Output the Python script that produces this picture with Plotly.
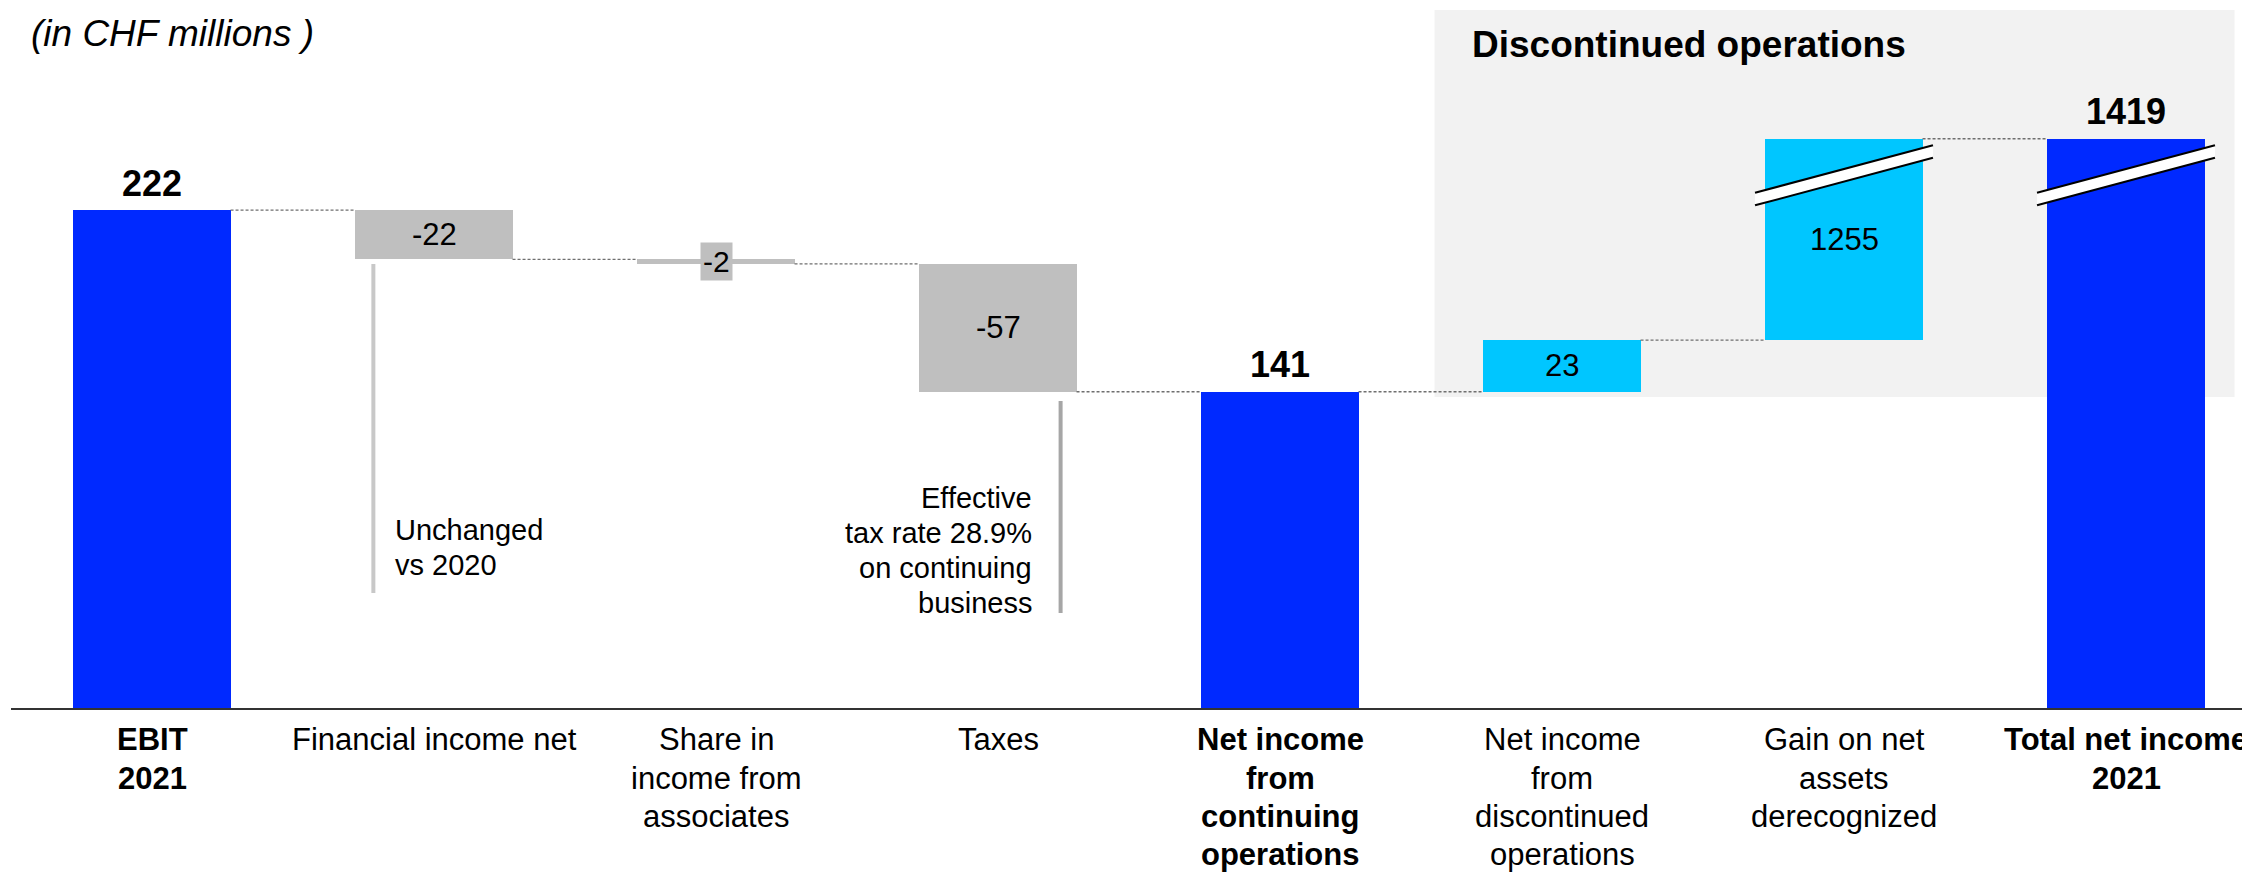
import plotly.graph_objects as go

# ---- data -------------------------------------------------------------
categories = [
    "EBIT|2021",
    "Financial income net",
    "Share in|income from|associates",
    "Taxes",
    "Net income|from|continuing|operations",
    "Net income|from|discontinued|operations",
    "Gain on net|assets|derecognized",
    "Total net income|2021",
]
values = [222, -22, -2, -57, 141, 23, 1255, 1419]
measures = ["total", "relative", "relative", "relative", "total", "relative", "relative", "total"]
bold_labels = [True, False, False, False, True, False, False, True]

unit_note = "(in CHF millions )"
section_title = "Discontinued operations"
fin_note = ["Unchanged", "vs 2020"]
tax_note = ["Effective", "tax rate 28.9%", "on continuing", "business"]

# ---- style ------------------------------------------------------------
BLUE = "#0029FF"
CYAN = "#00C6FF"
GREY = "#BFBFBF"
SHADE = "#F2F2F2"
FONT = "Liberation Sans, Arial, sans-serif"

W, H = 2242, 872
M_L, M_B = 11, 164
PX_PER_UNIT = 2.243             # vertical pixels per CHF million below the break
PLOT_H = H - M_B
BAR_W = 0.557

# broken value axis: values above BREAK_START are squeezed
BREAK_START = 230
SQUEEZE = 0.02


def to_axis(v):
    return v if v <= BREAK_START else BREAK_START + (v - BREAK_START) * SQUEEZE


# ---- waterfall geometry ---------------------------------------------------
starts, ends = [], []
running = 0
for v, m in zip(values, measures):
    if m == "total":
        s, e = 0, v
    else:
        s, e = running, running + v
    running = e
    starts.append(s)
    ends.append(e)

colors = []
for v, m in zip(values, measures):
    if m == "total":
        colors.append(BLUE)
    elif v < 0:
        colors.append(GREY)
    else:
        colors.append(CYAN)

xs = list(range(len(values)))
bases = [to_axis(s) for s in starts]
heights = [to_axis(e) - to_axis(s) for s, e in zip(starts, ends)]

fig = go.Figure()

fig.add_trace(go.Bar(
    x=xs, y=heights, base=bases, width=BAR_W,
    marker=dict(color=colors, line=dict(width=0)),
    hoverinfo="skip", showlegend=False,
))

shapes = []
annotations = []

# shaded panel behind the discontinued operations
shapes.append(dict(type="rect", xref="x", yref="y", x0=4.548, x1=7.385,
                   y0=138.7, y1=311.2, fillcolor=SHADE, line=dict(width=0),
                   layer="below"))

# dashed connectors between consecutive bars
for i in range(len(values) - 1):
    lvl = to_axis(ends[i])
    shapes.append(dict(type="line", xref="x", yref="y",
                       x0=i + BAR_W / 2, x1=i + 1 - BAR_W / 2, y0=lvl, y1=lvl,
                       line=dict(color="#6F6F6F", width=1.3, dash="3px,2px"),
                       layer="above"))

# break marks on bars that run past the squeezed part of the axis
over = 0.037
yl, yr, half = 226.9, 248.1, 2.8
for i, e in enumerate(ends):
    if max(e, starts[i]) > BREAK_START:
        xl = i - BAR_W / 2 - over
        xr = i + BAR_W / 2 + over
        shapes.append(dict(
            type="path", xref="x", yref="y",
            path=f"M {xl},{yl - half} L {xr},{yr - half} L {xr},{yr + half} L {xl},{yl + half} Z",
            fillcolor="white", line=dict(width=0), layer="above"))
        for d in (-half, half):
            shapes.append(dict(type="line", xref="x", yref="y",
                               x0=xl, y0=yl + d, x1=xr, y1=yr + d,
                               line=dict(color="black", width=2), layer="above"))

# callout rules
shapes.append(dict(type="line", xref="x", yref="y", x0=0.785, x1=0.785,
                   y0=51.3, y1=197.9, line=dict(color="#C8C8C8", width=4)))
shapes.append(dict(type="line", xref="x", yref="y", x0=3.222, x1=3.222,
                   y0=42.4, y1=136.9, line=dict(color="#A6A6A6", width=4)))


def text(x, y, t, size, xanchor="center", yshift=0, xref="x", **kw):
    annotations.append(dict(x=x, y=y, xref=xref, yref="y", text=t,
                            showarrow=False, xanchor=xanchor, yanchor="middle",
                            yshift=yshift, font=dict(family=FONT, size=size, color="black"),
                            **kw))


# value labels
for i, (v, m) in enumerate(zip(values, measures)):
    top = to_axis(ends[i])
    if m == "total":
        text(i, top, f"<b>{v}</b>", 36, yshift=27)
    elif abs(heights[i]) < 10:
        mid = bases[i] + heights[i] / 2
        text(i, mid, f"{v}", 30, bgcolor=GREY, borderpad=2)
    else:
        mid = bases[i] + heights[i] / 2
        text(i, mid, f"{v}", 31)

# category labels under the axis
LINE_GAP = 38.3
for i, (cat, b) in enumerate(zip(categories, bold_labels)):
    for j, line in enumerate(cat.split("|")):
        t = f"<b>{line}</b>" if b else line
        text(i, 0, t, 31, yshift=-(31.9 + j * LINE_GAP))

# notes
for j, line in enumerate(fin_note):
    text(0.856, 79.5, line, 29, xanchor="left", yshift=-j * 35)
for j, line in enumerate(tax_note):
    text(3.126, 93.8, line, 29, xanchor="right", yshift=-j * 35)

text(-0.436, 300.9, f"<i>{unit_note}</i>", 37, xanchor="left")
text(4.672, 295.6, f"<b>{section_title}</b>", 37, xanchor="left")

x_max = -0.5 + (W - M_L) / 282.0

fig.update_layout(
    width=W, height=H, autosize=False,
    margin=dict(l=M_L, r=0, t=0, b=M_B, pad=0),
    paper_bgcolor="white", plot_bgcolor="white",
    bargap=0, hovermode=False,
    shapes=shapes, annotations=annotations,
    xaxis=dict(range=[-0.5, x_max], showgrid=False, zeroline=False,
               showticklabels=False, ticks="", showline=True,
               linecolor="#333333", linewidth=2, fixedrange=True),
    yaxis=dict(range=[0, PLOT_H / PX_PER_UNIT], visible=False,
               showgrid=False, zeroline=False, fixedrange=True),
)

fig.write_html("out.html", config={"displayModeBar": False})
